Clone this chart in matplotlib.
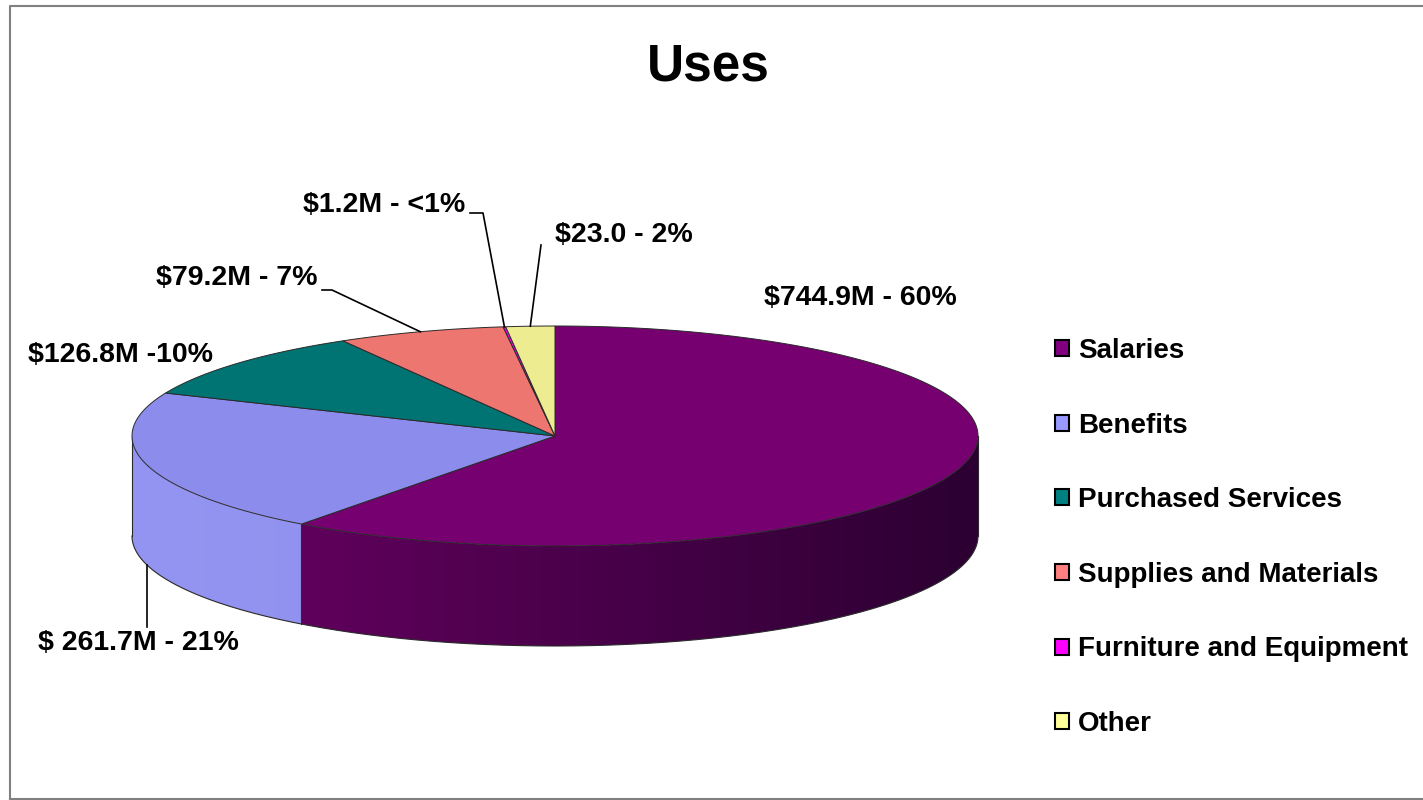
"""Uses - 3D-style pie chart of budget uses."""

import matplotlib
matplotlib.use("Agg")
import matplotlib.pyplot as plt
import numpy as np
from matplotlib.patches import Patch, Polygon

plt.rcParams["font.family"] = ["Liberation Sans", "DejaVu Sans"]
plt.rcParams["font.weight"] = "bold"

# data ($M)
categories = ["Salaries", "Benefits", "Purchased Services", "Supplies and Materials",
              "Furniture and Equipment", "Other"]
amounts = [744.9, 261.7, 126.8, 79.2, 1.2, 23.0]
slice_labels = ["$744.9M - 60%", "$ 261.7M - 21%", "$126.8M -10%", "$79.2M - 7%",
                "$1.2M - <1%", "$23.0 - 2%"]

legend_colors = ["#800080", "#9999ff", "#008080", "#ff8080", "#ff00ff", "#ffff99"]
top_colors = ["#760070", "#8c8cec", "#007472", "#ee7670", "#ff00ff", "#eeec90"]
# side gradient (left colour, right colour) per slice
side_colors = [((108, 0, 102), (44, 0, 50)), ((148, 148, 242), (136, 136, 228)),
               ((0, 90, 88), (0, 80, 78)), ((200, 100, 96), (190, 90, 86)),
               ((200, 0, 200), (190, 0, 190)), ((210, 208, 120), (200, 198, 110))]

# layout (pixels, y down)
W, H = 1423, 800
cx, cy, rx, ry, depth = 555, 436, 423, 110, 100
label_pos = [(860, 298), (138, 643), (120, 355), (237, 278), (384, 205), (624, 235)]


def ell(t, dz=0.0):
    t = np.radians(t)
    return cx + rx * np.sin(t), cy - ry * np.cos(t) + dz


fig = plt.figure(figsize=(W / 100, H / 100), dpi=100)
ax = fig.add_axes([0, 0, 1, 1])
ax.set_xlim(0, W)
ax.set_ylim(H, 0)
ax.axis("off")

vals = np.array(amounts)
bounds = np.concatenate([[0], np.cumsum(vals) / vals.sum() * 360])
edge = "#2a2a2a"

# side walls (front half only, 90..270 clockwise from top), shaded left -> right
for i in range(len(vals)):
    lo, hi = max(bounds[i], 90), min(bounds[i + 1], 270)
    if hi <= lo:
        continue
    ts = np.linspace(lo, hi, 200)
    tx, ty = ell(ts)
    bx, by = ell(ts[::-1], depth)
    wall = Polygon(np.column_stack([np.r_[tx, bx], np.r_[ty, by]]), closed=True,
                   facecolor="none", edgecolor="none")
    ax.add_patch(wall)
    x0, x1 = cx - rx, cx + rx
    f = np.linspace(0, 1, 256)
    c0, c1 = np.array(side_colors[i][0]), np.array(side_colors[i][1])
    grad = ((c0[None, :] + (c1 - c0)[None, :] * f[:, None]) / 255)[None, :, :]
    im = ax.imshow(grad, extent=(x0, x1, cy + ry + depth + 2, cy - ry - 2),
                   aspect="auto", interpolation="bilinear", zorder=1)
    im.set_clip_path(wall)

ax.set_xlim(0, W)
ax.set_ylim(H, 0)

# side outlines
ts = np.linspace(90, 270, 300)
bx, by = ell(ts, depth)
ax.plot(bx, by, color=edge, lw=0.8, zorder=2)
for t in (90, 270, bounds[1]):
    x, y = ell(t)
    ax.plot([x, x], [y, y + depth], color=edge, lw=0.8, zorder=2)

# top faces
for i in range(len(vals)):
    ts = np.linspace(bounds[i], bounds[i + 1], max(int((bounds[i + 1] - bounds[i]) * 2), 2))
    x, y = ell(ts)
    pts = np.column_stack([np.r_[cx, x], np.r_[cy, y]])
    ax.add_patch(Polygon(pts, closed=True, facecolor=top_colors[i], edgecolor=edge,
                         lw=0.7, zorder=3))

# data labels
for i, lab in enumerate(slice_labels):
    ax.text(*label_pos[i], lab, fontsize=20.5, fontweight="bold", ha="center", va="center")

# leader lines
lc = dict(color="black", lw=1.2, zorder=4)
x, y = ell(254.7, depth)
ax.plot([x, x], [y, label_pos[1][1] - 16], **lc)
x, y = ell((bounds[3] + bounds[4]) / 2)
ax.plot([322, 332, x], [290, 290, y], **lc)
x, y = ell((bounds[4] + bounds[5]) / 2)
ax.plot([470, 483, x], [213, 213, y], **lc)
x, y = ell((bounds[5] + bounds[6]) / 2)
ax.plot([541, x], [245, y], **lc)

ax.text(708, 67, "Uses", fontsize=37, fontweight="bold", ha="center", va="center")

handles = [Patch(facecolor=c, edgecolor="black", lw=1.5) for c in legend_colors]
ax.legend(handles, categories, loc="upper left", bbox_to_anchor=(1055 / W, 1 - 338 / H),
          bbox_transform=fig.transFigure, frameon=False,
          prop={"weight": "bold", "size": 20}, handlelength=0.52, handleheight=0.52,
          handletextpad=0.3, labelspacing=1.75, borderpad=0, borderaxespad=0)

# chart border
ax.plot([10, 10, W + 5], [H - 1, 6, 6], color="#808080", lw=1.5)
ax.plot([10, W + 5], [H - 1, H - 1], color="#808080", lw=1.5)

fig.savefig("out.png", dpi=100)
